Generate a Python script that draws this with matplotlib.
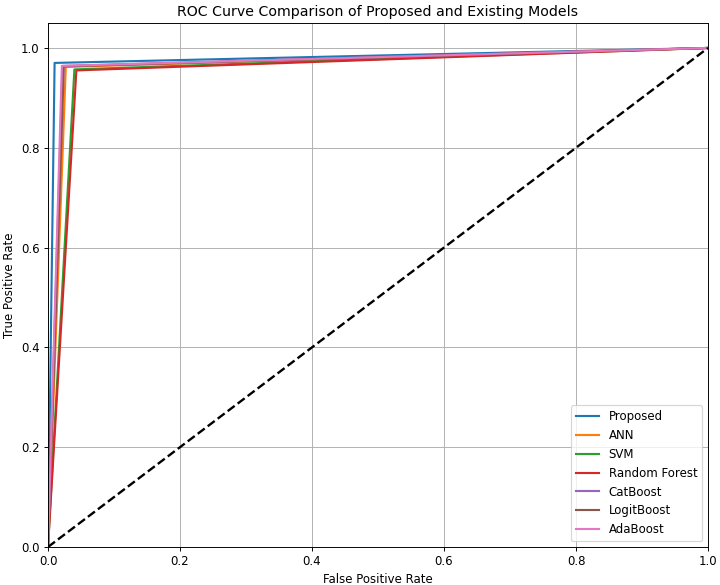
import matplotlib
matplotlib.use("Agg")
import matplotlib.pyplot as plt

models = ["Proposed", "ANN", "SVM", "Random Forest", "CatBoost", "LogitBoost", "AdaBoost"]
fpr_pts = [0.010, 0.027, 0.040, 0.043, 0.022, 0.024, 0.021]
tpr_pts = [0.970, 0.962, 0.957, 0.955, 0.964, 0.963, 0.964]
colors = ["tab:blue", "tab:orange", "tab:green", "tab:red", "tab:purple", "tab:brown", "tab:pink"]

# reference looks like a default figure scaled down, so render at a lower dpi
dpi = 85
fig = plt.figure(figsize=(720 / dpi, 585 / dpi), dpi=dpi)
ax = fig.add_subplot(111)
fig.subplots_adjust(left=48 / 720, right=708 / 720, top=1 - 23 / 585, bottom=1 - 547 / 585)

for name, f, t, c in zip(models, fpr_pts, tpr_pts, colors):
    ax.plot([0, f, 1], [0, t, 1], color=c, lw=1.8, label=name)

ax.plot([0, 1], [0, 1], "k--", lw=2)

ax.set_xlim(0, 1)
ax.set_ylim(0, 1.05)
ax.set_xlabel("False Positive Rate")
ax.set_ylabel("True Positive Rate")
ax.set_title("ROC Curve Comparison of Proposed and Existing Models")
ax.legend(loc="lower right")
ax.grid(True)

fig.savefig("out.png", dpi=dpi)
